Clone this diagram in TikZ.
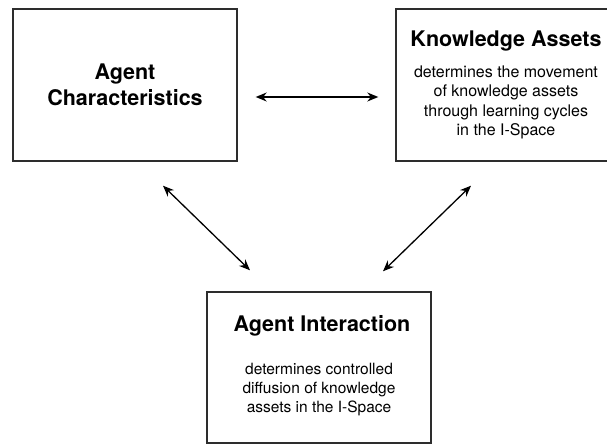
\documentclass[tikz,border=0pt]{standalone}
\usepackage{fontspec}
\setmainfont{TeX Gyre Heros}
\usepackage{xcolor}
\definecolor{boxline}{RGB}{45, 45, 45}
\usepackage{tikz}
\usetikzlibrary{positioning, arrows.meta}

\begin{document}
\begin{tikzpicture}[x=1pt, y=1pt,
    agentbox/.style={draw=boxline, line width=1.4pt, minimum width=224pt,
                     minimum height=152pt, inner sep=0pt},
    boxtitle/.style={font=\fontsize{21.5}{26}\selectfont\bfseries, align=center, inner sep=0pt},
    boxtext/.style={font=\fontsize{16}{19.3}\selectfont, align=center, inner sep=0pt},
    link/.style={line width=1.3pt,
                 {Stealth[length=11pt,width=9pt]}-{Stealth[length=11pt,width=9pt]}}]
  \useasboundingbox (0,0) rectangle (607,445);
  \clip (0,0) rectangle (607,445);
  % the three boxes
  \node[agentbox] (chars) at (125,360) {};
  \node[boxtitle] (charsTitle) at (chars.center) {Agent\\Characteristics};

  \node[agentbox, minimum width=220pt] (assets) at (506,360) {};
  \node[boxtitle, yshift=-33pt] (assetsTitle) at (assets.north) {Knowledge Assets};
  \node[boxtext, yshift=-94pt] (assetsText) at (assets.north)
       {determines the movement\\of knowledge assets\\through learning cycles\\in the I-Space};

  \node[agentbox, minimum height=151pt] (inter) at (319,77.5) {};
  \node[boxtitle, yshift=-35pt, xshift=3pt] (interTitle) at (inter.north) {Agent Interaction};
  \node[boxtext, yshift=-98pt, font=\fontsize{15.5}{19}\selectfont] (interText) at (inter.north)
       {determines controlled\\diffusion of knowledge\\assets in the I-Space};

  % links between them
  \draw[link] ([shift={(18,-12)}]chars.east) -- ([shift={(-17,-12)}]assets.west);
  \draw[link] ([shift={(38,-24)}]chars.south) -- ([shift={(-69,21)}]inter.north);
  \draw[link] ([shift={(-35,-24)}]assets.south) -- ([shift={(64,20)}]inter.north);
\end{tikzpicture}
\end{document}
